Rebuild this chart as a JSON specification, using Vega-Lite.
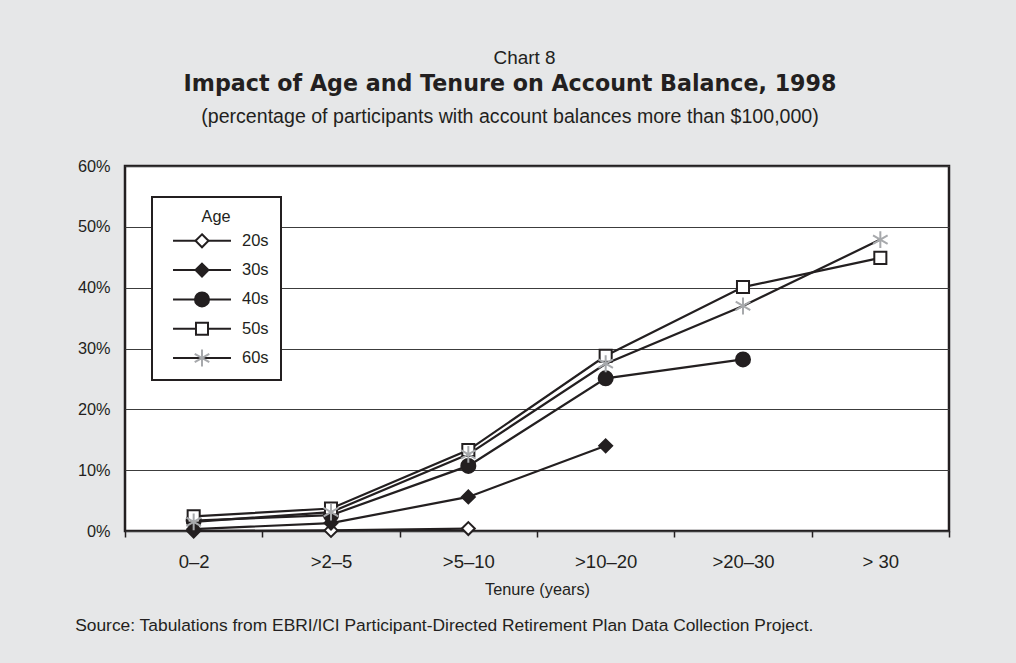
{
  "$schema": "https://vega.github.io/schema/vega-lite/v6.json",
  "background": "#e6e7e8",
  "padding": {"left": 75, "top": 48, "right": 69, "bottom": 28},
  "config": {
    "font": "Liberation Sans",
    "view": {"stroke": "#231f20", "strokeWidth": 2.5, "fill": "white"},
    "axis": {"labelFont": "Liberation Sans", "titleFont": "Liberation Sans", "labelColor": "#231f20", "titleColor": "#231f20", "titleFontWeight": "normal"},
    "legend": {
      "orient": "none", "legendX": 27, "legendY": 31,
      "symbolSize": 324, "symbolStrokeWidth": 2, "symbolOffset": 28, "labelOffset": 30,
      "clipHeight": 20, "rowPadding": 9.3, "padding": 12, "titleAnchor": "middle", "titlePadding": 5.5,
      "labelFont": "Liberation Sans", "labelFontSize": 16.5,
      "titleFont": "Liberation Sans", "titleFontSize": 16.3, "titleFontWeight": "normal",
      "labelColor": "#231f20", "titleColor": "#231f20"
    }
  },
  "title": {"text": "Source: Tabulations from EBRI/ICI Participant-Directed Retirement Plan Data Collection Project.", "orient": "bottom", "anchor": "start", "frame": "bounds", "font": "Liberation Sans", "fontSize": 17.4, "fontWeight": "normal", "color": "#231f20", "offset": 18, "dx": -1},
  "vconcat": [
    {
      "title": {"text": "Chart 8", "anchor": "middle", "font": "Liberation Sans", "fontSize": 18.9, "fontWeight": "normal", "color": "#231f20", "offset": 4.5, "dx": 11},
      "vconcat": [
        {
          "title": {"text": "Impact of Age and Tenure on Account Balance, 1998", "subtitle": "(percentage of participants with account balances more than $100,000)", "anchor": "middle", "font": "DejaVu Sans", "fontSize": 22.2, "fontWeight": "bold", "color": "#231f20", "subtitleFont": "Liberation Sans", "subtitleFontSize": 19.6, "subtitleColor": "#231f20", "subtitlePadding": 13, "offset": 31, "dx": -27},
          "width": 824,
          "height": 365,
          "data": {"values": [
            {"Tenure": "0–2", "Age": "20s", "Pct": 0.0},
            {"Tenure": ">2–5", "Age": "20s", "Pct": 0.1},
            {"Tenure": ">5–10", "Age": "20s", "Pct": 0.4},
            {"Tenure": "0–2", "Age": "30s", "Pct": 0.3},
            {"Tenure": ">2–5", "Age": "30s", "Pct": 1.3},
            {"Tenure": ">5–10", "Age": "30s", "Pct": 5.6},
            {"Tenure": ">10–20", "Age": "30s", "Pct": 14.0},
            {"Tenure": "0–2", "Age": "40s", "Pct": 1.7},
            {"Tenure": ">2–5", "Age": "40s", "Pct": 2.6},
            {"Tenure": ">5–10", "Age": "40s", "Pct": 10.7},
            {"Tenure": ">10–20", "Age": "40s", "Pct": 25.1},
            {"Tenure": ">20–30", "Age": "40s", "Pct": 28.2},
            {"Tenure": "0–2", "Age": "50s", "Pct": 2.4},
            {"Tenure": ">2–5", "Age": "50s", "Pct": 3.7},
            {"Tenure": ">5–10", "Age": "50s", "Pct": 13.3},
            {"Tenure": ">10–20", "Age": "50s", "Pct": 28.8},
            {"Tenure": ">20–30", "Age": "50s", "Pct": 40.1},
            {"Tenure": "> 30", "Age": "50s", "Pct": 44.9},
            {"Tenure": "0–2", "Age": "60s", "Pct": 1.5},
            {"Tenure": ">2–5", "Age": "60s", "Pct": 3.1},
            {"Tenure": ">5–10", "Age": "60s", "Pct": 12.6},
            {"Tenure": ">10–20", "Age": "60s", "Pct": 27.5},
            {"Tenure": ">20–30", "Age": "60s", "Pct": 37.0},
            {"Tenure": "> 30", "Age": "60s", "Pct": 47.9}
          ]},
          "encoding": {
            "x": {"field": "Tenure", "type": "nominal", "sort": ["0–2", ">2–5", ">5–10", ">10–20", ">20–30", "> 30"],
                  "scale": {"type": "band", "paddingInner": 0, "paddingOuter": 0},
                  "axis": {"title": "Tenure (years)", "labelAngle": 0, "tickBand": "extent", "tickSize": 6, "tickWidth": 1.5, "tickColor": "#231f20", "domain": false, "grid": false, "labelFontSize": 18.5, "labelPadding": 15, "titleFontSize": 16.3, "titlePadding": 11}},
            "y": {"field": "Pct", "type": "quantitative", "scale": {"domain": [0, 60], "nice": false},
                  "axis": {"title": null, "values": [0, 10, 20, 30, 40, 50, 60], "labelExpr": "datum.value + '%'", "domain": false, "ticks": false, "tickSize": 0, "grid": true, "gridColor": "#3c3c3c", "gridWidth": 1, "labelFontSize": 16.3, "labelPadding": 15}}
          },
          "layer": [
            {
              "mark": {"type": "line", "strokeWidth": 2.2},
              "encoding": {
                "color": {"field": "Age", "type": "nominal",
                  "scale": {"domain": ["20s", "30s", "40s", "50s", "60s"], "range": ["#231f20", "#231f20", "#231f20", "#231f20", "#231f20"]},
                  "legend": {"title": "Age", "symbolType": "M-3.22,0H3.22", "fillColor": "white", "strokeColor": "#231f20", "encode": {"legend": {"update": {"strokeWidth": {"value": 2}}}}}}
              }
            },
            {
              "mark": {"type": "point", "size": 324, "strokeWidth": 2, "opacity": 1},
              "encoding": {
                "shape": {"field": "Age", "type": "nominal",
                  "scale": {"range": [
                    "M0,-0.72L0.72,0L0,0.72L-0.72,0Z",
                    "M0,-0.72L0.72,0L0,0.72L-0.72,0Z",
                    "M0.78,0C0.78,0.431,0.431,0.78,0,0.78C-0.431,0.78,-0.78,0.431,-0.78,0C-0.78,-0.431,-0.431,-0.78,0,-0.78C0.431,-0.78,0.78,-0.431,0.78,0Z",
                    "M-0.67,-0.67H0.67V0.67H-0.67Z",
                    "M0,-0.94V0.94M-0.81,-0.47L0.81,0.47M-0.81,0.47L0.81,-0.47"]},
                  "legend": {"title": "Age", "titleOpacity": 0, "labelOpacity": 0}},
                "fill": {"field": "Age", "type": "nominal",
                  "scale": {"range": ["white", "#231f20", "#231f20", "white", "transparent"]},
                  "legend": {"title": "Age", "titleOpacity": 0, "labelOpacity": 0}},
                "stroke": {"field": "Age", "type": "nominal",
                  "scale": {"range": ["#231f20", "#231f20", "#231f20", "#231f20", "#a7a9ac"]},
                  "legend": {"title": "Age", "titleOpacity": 0, "labelOpacity": 0}}
              }
            }
          ]
        }
      ]
    }
  ]
}
